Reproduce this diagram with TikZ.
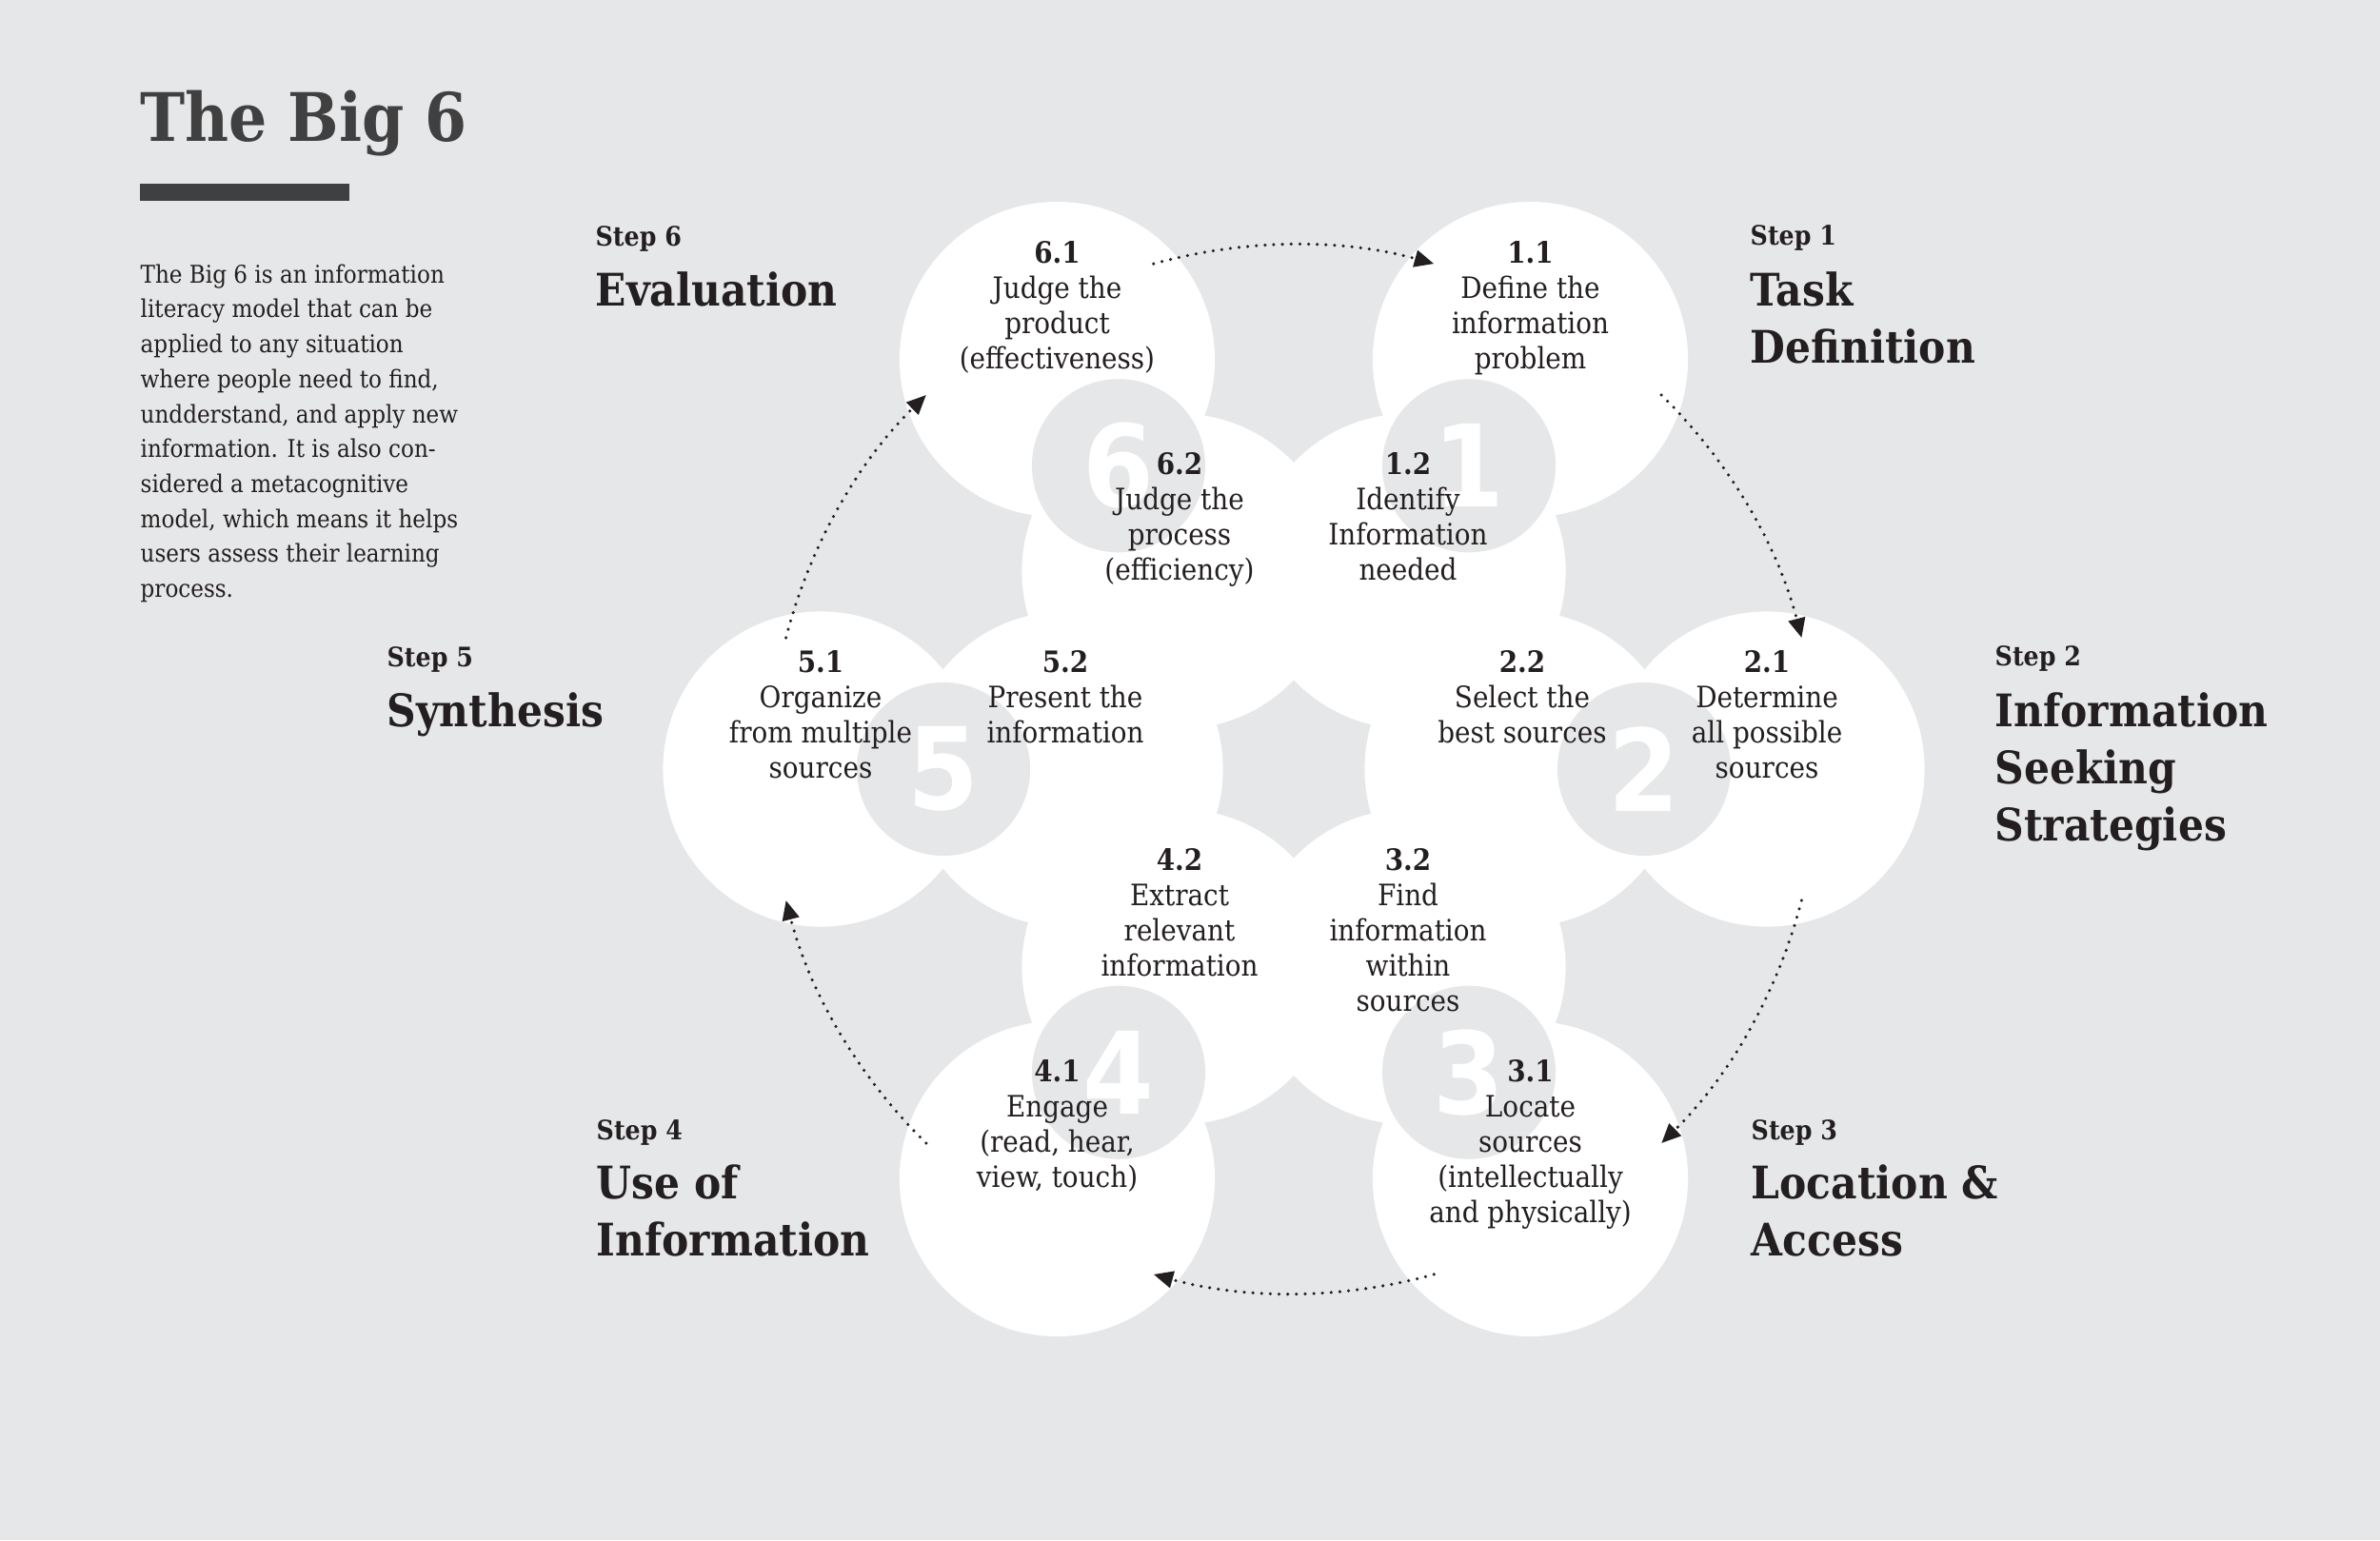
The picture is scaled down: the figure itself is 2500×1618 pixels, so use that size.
\documentclass[tikz,border=0pt]{standalone}
\usepackage{fontspec}
\usetikzlibrary{arrows.meta}
\newfontfamily\slabfont{DejaVuSerifCondensed}[Extension=.ttf, BoldFont=DejaVuSerifCondensed-Bold]
\newfontfamily\digitfont{DejaVuSansCondensed-Bold}[Extension=.ttf]
\definecolor{paper}{HTML}{E6E7E8}
\definecolor{ink}{HTML}{231F20}
\definecolor{titlegrey}{HTML}{404041}
\newcommand{\nr}[1]{{\bfseries #1}}

\begin{document}
\begin{tikzpicture}[x=0.01cm, y=0.01cm,
    disc/.style={circle, fill=white, inner sep=0pt, minimum size=3.31cm},
    hole/.style={circle, fill=paper, inner sep=0pt, minimum size=1.82cm},
    bignum/.style={text=white, inner sep=0pt, font=\digitfont\fontsize{34}{34}\selectfont},
    txt/.style={anchor=north, align=center, inner sep=0pt, text=ink, font=\slabfont\fontsize{8.8}{10.5}\selectfont},
    steplbl/.style={anchor=north west, inner sep=0pt, text=ink, font=\slabfont\bfseries\fontsize{8}{10}\selectfont},
    heading/.style={anchor=north west, align=left, inner sep=0pt, text=ink, font=\slabfont\bfseries\fontsize{13.4}{17.07}\selectfont},
    flow/.style={-{Triangle[length=5.8pt,width=5pt]}, ink, line width=1pt, line cap=round, dash pattern=on 0pt off 2.6pt, bend left=15.5, looseness=0.87}]
    \fill[paper] (0,0) rectangle (2500,-1618);
    \useasboundingbox (0,0) rectangle (2500,-1618);

    % title and text on the left
    \node[anchor=north west, inner sep=0pt, text=titlegrey, font=\slabfont\bfseries\fontsize{20}{24}\selectfont] (title) at (147,-94) {The Big 6};
    \fill[titlegrey] (147,-193) rectangle (367,-211);
    \node[anchor=north west, align=left, inner sep=0pt, text=ink, font=\slabfont\fontsize{7.3}{10.44}\selectfont] (blurb) at (147,-277)
    {The Big 6 is an information\\ literacy model that can be\\ applied to any situation\\ where people need to find,\\ undderstand, and apply new\\ information. It is also con-\\ sidered a metacognitive\\ model, which means it helps\\ users assess their learning\\ process.};

    % outer and inner discs
    \path
    node[disc] (o1) at (1607.5,-377.6) {}
    node[disc] (o2) at (1856,-808) {}
    node[disc] (o3) at (1607.5,-1238.4) {}
    node[disc] (o4) at (1110.5,-1238.4) {}
    node[disc] (o5) at (862,-808) {}
    node[disc] (o6) at (1110.5,-377.6) {};
    \path
    node[disc] (i1) at (1479,-600.2) {}
    node[disc] (i2) at (1599,-808) {}
    node[disc] (i3) at (1479,-1015.8) {}
    node[disc] (i4) at (1239,-1015.8) {}
    node[disc] (i5) at (1119,-808) {}
    node[disc] (i6) at (1239,-600.2) {};

    % grey holes with the step numbers
    \path
    node[hole] (g1) at (1543,-489.3) {} node[bignum] (n1) at (g1) {1}
    node[hole] (g2) at (1727,-808) {} node[bignum] (n2) at (g2) {2}
    node[hole] (g3) at (1543,-1126.7) {} node[bignum] (n3) at (g3) {3}
    node[hole] (g4) at (1175,-1126.7) {} node[bignum] (n4) at (g4) {4}
    node[hole] (g5) at (991,-808) {} node[bignum] (n5) at (g5) {5}
    node[hole] (g6) at (1175,-489.3) {} node[bignum] (n6) at (g6) {6};

    % sub steps
    \node[txt] (t11) at (1607.5,-253) {\nr{1.1}\\Define the\\information\\problem};
    \node[txt] (t12) at (1479,-475) {\nr{1.2}\\Identify\\Information\\needed};
    \node[txt] (t21) at (1856,-683) {\nr{2.1}\\Determine\\all possible\\sources};
    \node[txt] (t22) at (1599,-683) {\nr{2.2}\\Select the\\best sources};
    \node[txt] (t31) at (1607.5,-1113) {\nr{3.1}\\Locate\\sources\\(intellectually\\and physically)};
    \node[txt] (t32) at (1479,-891) {\nr{3.2}\\Find\\information\\within\\sources};
    \node[txt] (t41) at (1110.5,-1113) {\nr{4.1}\\Engage\\(read, hear,\\view, touch)};
    \node[txt] (t42) at (1239,-891) {\nr{4.2}\\Extract\\relevant\\information};
    \node[txt] (t51) at (862,-683) {\nr{5.1}\\Organize\\from multiple\\sources};
    \node[txt] (t52) at (1119,-683) {\nr{5.2}\\Present the\\information};
    \node[txt] (t61) at (1110.5,-253) {\nr{6.1}\\Judge the\\product\\(effectiveness)};
    \node[txt] (t62) at (1239,-475) {\nr{6.2}\\Judge the\\process\\(efficiency)};

    % step names
    \node[steplbl] (lbl1) at (1838,-236) {Step 1};
    \node[heading] (head1) at (1838,-285) {Task\\Definition};
    \node[steplbl] (lbl2) at (2095,-678) {Step 2};
    \node[heading] (head2) at (2095,-727) {Information\\Seeking\\Strategies};
    \node[steplbl] (lbl3) at (1839,-1176) {Step 3};
    \node[heading] (head3) at (1839,-1223) {Location \&\\Access};
    \node[steplbl] (lbl4) at (626,-1176) {Step 4};
    \node[heading] (head4) at (626,-1223) {Use of\\Information};
    \node[steplbl] (lbl5) at (406,-679) {Step 5};
    \node[heading] (head5) at (406,-727) {Synthesis};
    \node[steplbl] (lbl6) at (625,-237) {Step 6};
    \node[heading] (head6) at (625,-285) {Evaluation};

    % dotted arrows round the ring
    \coordinate (a61) at (1211.8,-277.1); \coordinate (b61) at (1506.2,-277.1);
    \coordinate (a12) at (1745.2,-415.0); \coordinate (b12) at (1892.4,-670.0);
    \coordinate (a23) at (1892.4,-946.0); \coordinate (b23) at (1745.2,-1201.0);
    \coordinate (a34) at (1506.2,-1338.9); \coordinate (b34) at (1211.8,-1338.9);
    \coordinate (a45) at (972.8,-1201.0); \coordinate (b45) at (825.6,-946.0);
    \coordinate (a56) at (825.6,-670.0); \coordinate (b56) at (972.8,-415.0);
    \path
    (a61) edge[flow] (b61)
    (a12) edge[flow] (b12)
    (a23) edge[flow] (b23)
    (a34) edge[flow] (b34)
    (a45) edge[flow] (b45)
    (a56) edge[flow] (b56);
\end{tikzpicture}
\end{document}
